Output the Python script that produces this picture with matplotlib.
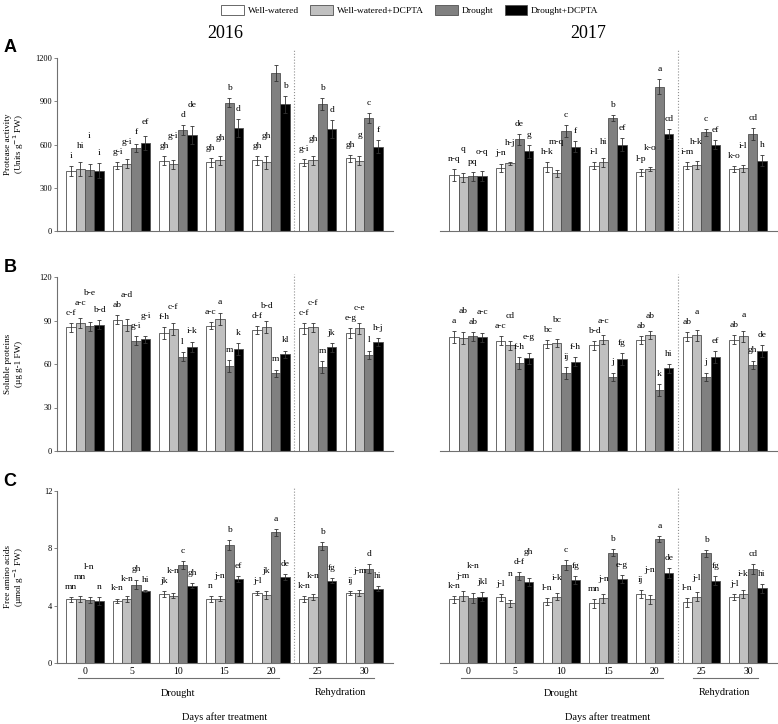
import numpy as np
import matplotlib
matplotlib.use("Agg")
import matplotlib.pyplot as plt
from matplotlib.patches import Patch
import matplotlib.transforms as mtransforms

plt.rcParams['font.family'] = ['Liberation Serif', 'DejaVu Serif']

days = [0, 5, 10, 15, 20, 25, 30]
treatments = ['Well-watered', 'Well-watered+DCPTA', 'Drought', 'Drought+DCPTA']
colors = ['white', '#c0c0c0', '#808080', 'black']

# protease activity (Units g-1 FW)
prot_2016 = [[417, 452, 487, 477, 491, 475, 505],
             [431, 466, 463, 491, 477, 491, 489],
             [424, 575, 700, 890, 1098, 880, 783],
             [419, 609, 665, 714, 878, 707, 586]]
prot_2016_err = [[35, 25, 30, 30, 30, 25, 25],
                 [50, 30, 30, 30, 45, 30, 30],
                 [40, 30, 35, 30, 55, 40, 35],
                 [50, 50, 60, 65, 60, 60, 45]]
prot_2016_lab = [['i', 'g-i', 'gh', 'gh', 'gh', 'g-i', 'gh'],
                 ['hi', 'g-i', 'g-i', 'gh', 'gh', 'gh', 'g'],
                 ['i', 'f', 'd', 'b', '', 'b', 'c'],
                 ['i', 'ef', 'de', 'd', 'b', 'd', 'f']]

prot_2017 = [[389, 438, 445, 452, 408, 452, 429],
             [373, 470, 401, 477, 429, 459, 436],
             [380, 635, 695, 783, 1001, 684, 672],
             [380, 554, 586, 598, 672, 600, 489]]
prot_2017_err = [[40, 30, 35, 25, 25, 25, 20],
                 [30, 10, 25, 30, 15, 30, 25],
                 [30, 35, 40, 20, 50, 25, 40],
                 [35, 45, 40, 45, 35, 30, 35]]
prot_2017_lab = [['n-q', 'j-n', 'h-k', 'i-l', 'l-p', 'i-m', 'k-o'],
                 ['q', 'h-j', 'm-q', 'hi', 'k-o', 'h-k', 'i-l'],
                 ['pq', 'de', 'c', 'b', 'a', 'c', 'cd'],
                 ['o-q', 'g', 'f', 'ef', 'cd', 'ef', 'h']]

# soluble proteins (ug g-1 FW)
sp_2016 = [[85.4, 90.5, 81.3, 86.4, 83.4, 84.5, 81.3],
           [88.2, 87.1, 84.3, 91.0, 85.7, 85.4, 84.5],
           [85.9, 76.2, 65.0, 58.7, 53.7, 58.0, 66.3],
           [87.1, 76.9, 72.0, 70.2, 66.8, 71.6, 75.1]]
sp_2016_err = [[3, 3, 4, 2.5, 3, 3.5, 3.5],
               [3.5, 4, 4, 4, 4, 3, 3.5],
               [3, 3, 3, 4, 2.5, 4, 3],
               [3, 2.5, 3.5, 4, 2.5, 3, 3]]
sp_2016_lab = [['c-f', 'ab', 'f-h', 'a-c', 'd-f', 'c-f', 'e-g'],
               ['a-c', 'a-d', 'c-f', 'a', 'b-d', 'c-f', 'c-e'],
               ['b-e', 'g-i', 'l', 'm', 'm', 'm', 'l'],
               ['b-d', 'g-i', 'i-k', 'k', 'kl', 'jk', 'h-j']]

sp_2017 = [[78.8, 76.0, 73.7, 73.0, 76.5, 78.8, 76.7],
           [77.8, 73.0, 74.4, 76.7, 79.9, 79.7, 79.0],
           [79.2, 60.6, 53.7, 51.1, 42.1, 51.1, 59.4],
           [78.3, 63.8, 61.7, 63.3, 56.9, 64.9, 68.9]]
sp_2017_err = [[4, 3, 3, 3, 3, 3, 3],
               [4, 3, 3, 3, 3, 4, 4],
               [3, 4, 4, 3, 4, 3, 3],
               [3, 3.5, 3, 4, 3, 4, 4]]
sp_2017_lab = [['a', 'a-c', 'bc', 'b-d', 'ab', 'ab', 'ab'],
               ['ab', 'cd', 'bc', 'a-c', 'ab', 'a', 'a'],
               ['ab', 'f-h', 'ij', 'j', 'k', 'j', 'gh'],
               ['a-c', 'e-g', 'f-h', 'fg', 'hi', 'ef', 'de']]

# free amino acids (umol g-1 FW)
faa_2016 = [[4.44, 4.35, 4.81, 4.44, 4.86, 4.49, 4.86],
            [4.49, 4.49, 4.70, 4.49, 4.74, 4.58, 4.86],
            [4.40, 5.47, 6.84, 8.21, 9.12, 8.16, 6.58],
            [4.33, 5.02, 5.40, 5.88, 6.02, 5.75, 5.19]]
faa_2016_err = [[.15, .15, .2, .2, .15, .2, .15],
                [.2, .2, .15, .15, .3, .2, .2],
                [.2, .3, .3, .35, .25, .3, .3],
                [.25, .1, .2, .2, .2, .2, .2]]
faa_2016_lab = [['mn', 'k-n', 'jk', 'n', 'j-l', 'k-n', 'ij'],
                ['mn', 'k-n', 'k-n', 'j-n', 'jk', 'k-n', 'j-m'],
                ['l-n', 'gh', 'c', 'b', 'a', 'b', 'd'],
                ['n', 'hi', 'gh', 'ef', 'de', 'fg', 'hi']]

faa_2017 = [[4.44, 4.58, 4.28, 4.16, 4.81, 4.23, 4.58],
            [4.65, 4.16, 4.63, 4.51, 4.44, 4.63, 4.81],
            [4.54, 6.07, 6.84, 7.70, 8.65, 7.65, 6.58],
            [4.63, 5.65, 5.79, 5.86, 6.26, 5.75, 5.21]]
faa_2017_err = [[.25, .25, .25, .3, .25, .3, .2],
                [.35, .25, .25, .3, .3, .3, .25],
                [.35, .3, .35, .25, .2, .25, .35],
                [.3, .25, .3, .3, .35, .3, .3]]
faa_2017_lab = [['k-n', 'j-l', 'l-n', 'mn', 'ij', 'l-n', 'j-l'],
                ['j-m', 'n', 'i-k', 'j-n', 'j-n', 'j-l', 'i-k'],
                ['k-n', 'd-f', 'c', 'b', 'a', 'b', 'cd'],
                ['jkl', 'gh', 'fg', 'e-g', 'de', 'fg', 'hi']]

panels = [
    ('A', 'Protease activity', '(Units g$^{-1}$ FW)', 1200, [0, 300, 600, 900, 1200],
     (prot_2016, prot_2016_err, prot_2016_lab), (prot_2017, prot_2017_err, prot_2017_lab)),
    ('B', 'Soluble proteins', '(\u00b5g g-1 FW)', 120, [0, 30, 60, 90, 120],
     (sp_2016, sp_2016_err, sp_2016_lab), (sp_2017, sp_2017_err, sp_2017_lab)),
    ('C', 'Free amino acids', '(\u00b5mol g$^{-1}$ FW)', 12, [0, 4, 8, 12],
     (faa_2016, faa_2016_err, faa_2016_lab), (faa_2017, faa_2017_err, faa_2017_lab)),
]

W, H = 778, 724
fig = plt.figure(figsize=(W / 100, H / 100), dpi=100)

axcol = '#707070'
bw = 0.2
x = np.arange(len(days))
rows = [(58, 231), (277, 451), (491, 663)]
cols = [(57, 393), (440, 777)]

for r, (letter, yl1, yl2, ymax, yticks, d16, d17) in enumerate(panels):
    top, bot = rows[r]
    pad = ymax * 0.035
    line_h = ymax * 0.058
    for c, (vals, errs, labs) in enumerate([d16, d17]):
        left, right = cols[c]
        ax = fig.add_axes([left / W, 1 - bot / H, (right - left) / W, (bot - top) / H])
        for i in range(4):
            xs = x + (i - 1.5) * bw
            ax.bar(xs, vals[i], bw, color=colors[i], edgecolor='#505050', linewidth=0.6, zorder=2)
            ax.errorbar(xs, vals[i], yerr=errs[i], fmt='none', ecolor='#333333',
                        elinewidth=0.6, capsize=1.6, capthick=0.6, zorder=3)
        # letters: push a label up when it would collide with its left neighbour
        for k in range(len(days)):
            prev_y, prev_lab = None, ''
            for i in range(4):
                lab = labs[i][k]
                if not lab:
                    continue
                y = vals[i][k] + errs[i][k] + pad
                if prev_y is not None and abs(y - prev_y) < line_h and len(lab) + len(prev_lab) > 2:
                    y = prev_y + line_h
                ax.text(x[k] + (i - 1.5) * bw, y, lab, ha='center', va='bottom', fontsize=6.8)
                prev_y, prev_lab = y, lab
        ax.set_xlim(-0.6, 6.62)
        ax.set_ylim(0, ymax)
        ax.axvline(4.5, ymin=0, ymax=1.05 if r == 0 else 1.02, color='#909090',
                   linestyle=':', linewidth=0.8, clip_on=False)
        for s in ['top', 'right']:
            ax.spines[s].set_visible(False)
        ax.spines['bottom'].set_color(axcol)
        ax.spines['bottom'].set_linewidth(0.8)
        ax.spines['left'].set_color(axcol)
        ax.spines['left'].set_linewidth(0.8)
        ax.tick_params(axis='x', length=0)
        ax.tick_params(axis='y', length=2.5, width=0.6, color=axcol, labelsize=6, pad=1)
        if c == 0:
            ax.set_yticks(yticks)
            fig.text(8 / W, 1 - (top + bot) / 2 / H, yl1, rotation=90, ha='center',
                     va='center', fontsize=6.6)
            fig.text(19 / W, 1 - (top + bot) / 2 / H, yl2, rotation=90, ha='center',
                     va='center', fontsize=6.6)
            fig.text(10 / W, 1 - (top - 10) / H, letter, fontsize=13, fontweight='bold',
                     family='Liberation Sans', ha='center', va='center')
        else:
            ax.spines['left'].set_visible(False)
            ax.set_yticks([])
        if r == 2:
            ax.set_xticks(x)
            ax.set_xticklabels([str(dd) for dd in days], fontsize=7)
            ax.tick_params(axis='x', pad=3)
            trans = mtransforms.blended_transform_factory(ax.transData, ax.transAxes)
            ax.plot([-0.14, 4.17], [-0.088, -0.088], transform=trans, color=axcol,
                    linewidth=0.8, clip_on=False)
            ax.plot([4.82, 6.22], [-0.088, -0.088], transform=trans, color=axcol,
                    linewidth=0.8, clip_on=False)
            ax.text(2, -0.175, 'Drought', transform=trans, ha='center', va='center', fontsize=7.5)
            ax.text(5.5, -0.17, 'Rehydration', transform=trans, ha='center', va='center', fontsize=7.5)
            ax.text(3, -0.315, 'Days after treatment', transform=trans, ha='center',
                    va='center', fontsize=7.5)
        else:
            ax.set_xticks([])

fig.text(225 / W, 1 - 33 / H, '2016', ha='center', va='center', fontsize=13)
fig.text(588 / W, 1 - 33 / H, '2017', ha='center', va='center', fontsize=13)

handles = [Patch(facecolor=col, edgecolor='#505050', linewidth=0.6) for col in colors]
fig.legend(handles, treatments, loc='center', bbox_to_anchor=(410 / W, 1 - 10 / H), ncol=4,
           frameon=False, fontsize=6.8, handlelength=2.4, handleheight=1.3,
           handletextpad=0.4, columnspacing=1.2, borderpad=0)

fig.savefig('out.png', dpi=100)
